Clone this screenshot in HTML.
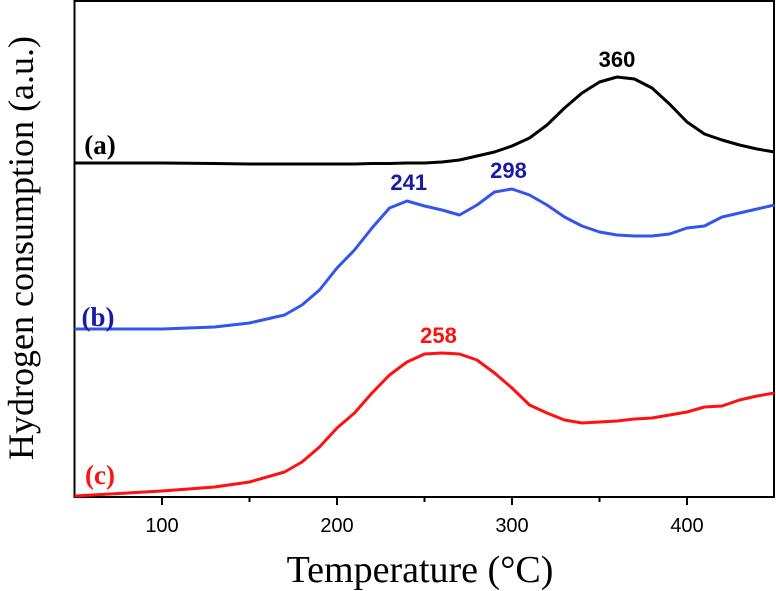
<!DOCTYPE html>
<html><head><meta charset="utf-8"><style>body{margin:0;background:#fff}svg{display:block}</style></head>
<body>
<svg width="776" height="591" id="chart">
<rect x="74.5" y="1" width="699.5" height="496" fill="none" stroke="#000" stroke-width="2"/>
<g id="ticks"></g>
<g id="series"></g>
<text x="420" y="582" font-family="Liberation Serif" font-size="38" text-anchor="middle">Temperature (°C)</text>
<text transform="translate(33,248) rotate(-90)" font-family="Liberation Serif" font-size="36" text-anchor="middle">Hydrogen consumption (a.u.)</text>
</svg>
<script>
const xTicks=[100,200,300,400];
const xMinor=[150,250,350];
const temps=[50,100,130,150,170,180,190,200,210,220,230,240,250,260,270,280,290,300,310,320,330,340,350,360,370,380,390,400,410,420,430,440,450];
const seriesA=[66.8,66.8,66.7,66.6,66.6,66.6,66.6,66.6,66.6,66.7,66.7,66.8,66.8,67.0,67.4,68.2,69.0,70.2,71.8,74.4,77.8,80.8,83.0,84.0,83.6,81.8,78.6,75.0,72.6,71.4,70.4,69.6,69.0];
const seriesB=[33.6,33.6,34.0,34.8,36.4,38.4,41.4,45.8,49.4,53.8,57.8,59.2,58.2,57.4,56.4,58.4,61.0,61.6,60.4,58.4,56.0,54.2,53.0,52.4,52.2,52.2,52.6,53.8,54.2,56.0,56.8,57.6,58.4];
const seriesC=[0.2,1.2,2.0,3.0,5.0,7.0,10.0,13.8,16.8,20.8,24.4,27.0,28.6,28.8,28.6,27.4,24.8,21.8,18.4,16.8,15.4,14.8,15.0,15.2,15.6,15.8,16.4,17.0,18.0,18.2,19.4,20.2,20.8];
const series=[{name:'a',vals:seriesA,color:'#000',label:'(a)',lx:100,ly:154,peaks:[360],pv:[84.0]},
{name:'b',vals:seriesB,color:'#3355ee',label:'(b)',lx:98,ly:326,peaks:[241,298],pv:[59.4,61.8],pc:'#1a1aa8'},
{name:'c',vals:seriesC,color:'#ff1111',label:'(c)',lx:100,ly:484,peaks:[258],pv:[28.8]}];
const X=t=>74.5+(t-50)*1.75;
const Y=v=>497-v*5;
const NS='http://www.w3.org/2000/svg';
const tg=document.getElementById('ticks');
function mk(tag,attrs,parent){const e=document.createElementNS(NS,tag);for(const k in attrs)e.setAttribute(k,attrs[k]);parent.appendChild(e);return e;}
xTicks.forEach(t=>{
 const l=mk('line',{x1:X(t),x2:X(t),y1:497,y2:505,stroke:'#000','stroke-width':2},tg);
 
 
 const tx=mk('text',{x:X(t),y:532,'font-family':'Liberation Sans','font-size':20,'text-anchor':'middle'},tg);
 tx.textContent=t;
 
 
});
xMinor.forEach(t=>{
 const l=mk('line',{x1:X(t),x2:X(t),y1:497,y2:502,stroke:'#000','stroke-width':2},tg);
 
 
});
const sg=document.getElementById('series');
series.forEach(s=>{
 const d=s.vals.map((v,i)=>(i?'L':'M')+X(temps[i]).toFixed(1)+','+Y(v).toFixed(1)).join(' ');
 const p=mk('path',{d:d,fill:'none',stroke:s.color,'stroke-width':3,'stroke-linejoin':'round'},sg);
 
 
 const lb=mk('text',{x:s.lx,y:s.ly,'font-family':'Liberation Serif','font-size':27,'font-weight':'bold',fill:s.pc||s.color,'text-anchor':'middle'},sg);
 lb.textContent=s.label;
 
 
 s.peaks.forEach((pk,j)=>{
  const t=mk('text',{x:X(pk),y:Y(s.pv[j])-10,'font-family':'Liberation Sans','font-size':22,'font-weight':'bold',fill:s.pc||s.color,'text-anchor':'middle'},sg);
  t.textContent=pk;
  
  
 });
});
</script>
</body></html>
